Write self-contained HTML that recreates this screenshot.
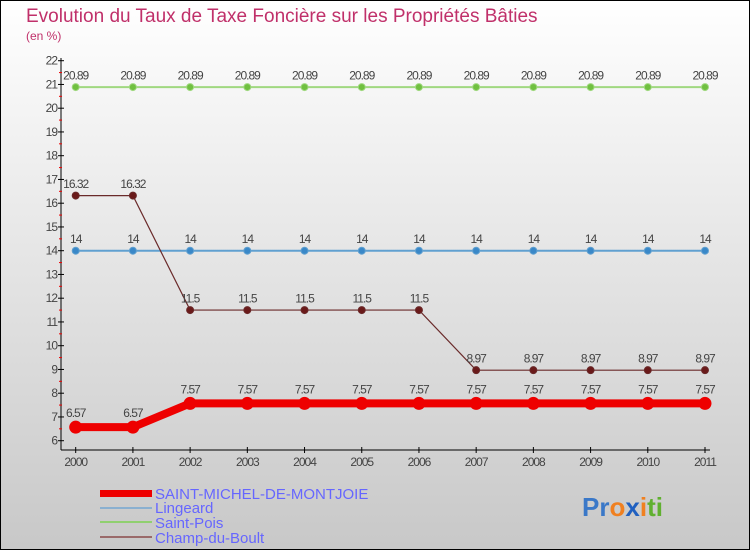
<!DOCTYPE html>
<html><head><meta charset="utf-8"><style>
body{margin:0}
svg{display:block;font-family:"Liberation Sans",sans-serif}
</style></head><body>
<svg id="c" width="750" height="550">
<defs><linearGradient id="bg" x1="0" y1="0" x2="0" y2="1"><stop offset="0" stop-color="#ffffff"/><stop offset="1" stop-color="#c8c8c8"/></linearGradient></defs>
<rect x="0.5" y="0.5" width="749" height="549" fill="url(#bg)" stroke="#000"/>
<text x="26" y="22" font-size="19" fill="#c0306a">Evolution du Taux de Taxe Foncière sur les Propriétés Bâties</text>
<text x="26" y="40" font-size="12" fill="#c0306a">(en %)</text>
<g id="axes"></g><g id="series"></g>
<g>
<rect x="100" y="490" width="52" height="7" fill="#e00"/>
<line x1="100" y1="508" x2="152" y2="508" stroke="#8ab0d0" stroke-width="2"/>
<line x1="100" y1="522" x2="152" y2="522" stroke="#90d070" stroke-width="2"/>
<line x1="100" y1="537" x2="152" y2="537" stroke="#9a6a6a" stroke-width="2"/>
<g font-size="15" fill="#6666ff">
<text x="155" y="499">SAINT-MICHEL-DE-MONTJOIE</text>
<text x="155" y="513">Lingeard</text>
<text x="155" y="528">Saint-Pois</text>
<text x="155" y="543">Champ-du-Boult</text>
</g></g>
<text x="582" y="516" font-size="26" font-weight="bold"><tspan fill="#3a78c8">Pr</tspan><tspan fill="#f08020">o</tspan><tspan fill="#2060c0">x</tspan><tspan fill="#f08020">i</tspan><tspan fill="#60b030">ti</tspan></text>
</svg>
<script>
const years=[2000,2001,2002,2003,2004,2005,2006,2007,2008,2009,2010,2011];
const saintMichel=[6.57,6.57,7.57,7.57,7.57,7.57,7.57,7.57,7.57,7.57,7.57,7.57];
const lingeard=[14,14,14,14,14,14,14,14,14,14,14,14];
const saintPois=[20.89,20.89,20.89,20.89,20.89,20.89,20.89,20.89,20.89,20.89,20.89,20.89];
const champ=[16.32,16.32,11.5,11.5,11.5,11.5,11.5,8.97,8.97,8.97,8.97,8.97];
const yTicks=[6,7,8,9,10,11,12,13,14,15,16,17,18,19,20,21,22];
const NS='http://www.w3.org/2000/svg';
const X=i=>75.7+i*(705-75.7)/11;
const Y=v=>440.7-(v-6)*(380/16);
function mk(p,t,a){const e=document.createElementNS(NS,t);for(const k in a)e.setAttribute(k,a[k]);p.appendChild(e);return e;}
const ax=document.getElementById('axes');
let e=mk(ax,'line',{x1:61,y1:58,x2:61,y2:450,stroke:'#000'});


e=mk(ax,'line',{x1:61,y1:450,x2:710,y2:450,stroke:'#000'});


yTicks.forEach(v=>{
 mk(ax,'line',{x1:58,y1:Y(v),x2:64,y2:Y(v),stroke:'#000'});
 if(v<22)mk(ax,'line',{x1:59,y1:Y(v+0.5),x2:62,y2:Y(v+0.5),stroke:'#e00'});
 const t=mk(ax,'text',{x:57,y:Y(v)+4,'font-size':12,fill:'#444','text-anchor':'end','letter-spacing':'-1'});
 t.textContent=v;
 
 
});
years.forEach((y,i)=>{
 mk(ax,'line',{x1:X(i),y1:447,x2:X(i),y2:453,stroke:'#000'});
 const t=mk(ax,'text',{x:X(i),y:466,'font-size':12,fill:'#444','text-anchor':'middle','letter-spacing':'-1'});
 t.textContent=y;
 
 
});
const sg=document.getElementById('series');
function series(data,name,color,w,r,fill,labCol){
 const g=mk(sg,'g',{});
 
 
 const l=mk(g,'polyline',{points:data.map((v,i)=>X(i)+','+Y(v)).join(' '),fill:'none',stroke:color,'stroke-width':w});
 
 
 data.forEach((v,i)=>{
  const c=mk(g,'circle',{cx:X(i),cy:Y(v),r:r,fill:fill,stroke:color,'stroke-width':1});
  
  
  const t=mk(g,'text',{x:X(i),y:Y(v)-r-4,'font-size':12,fill:'#444','text-anchor':'middle','letter-spacing':'-1'});
  t.textContent=String(v);
  
  
 });
}
series(saintPois,'saint-pois','#a0d880',2,3.5,'#70c040');
series(lingeard,'lingeard','#60a0d0',2,3.5,'#3a88c8');
series(champ,'champ-du-boult','#6a2a2a',1.2,3.5,'#6a1a1a');
series(saintMichel,'saint-michel','#ee0000',8,6,'#ee0000');
</script>
</body></html>
